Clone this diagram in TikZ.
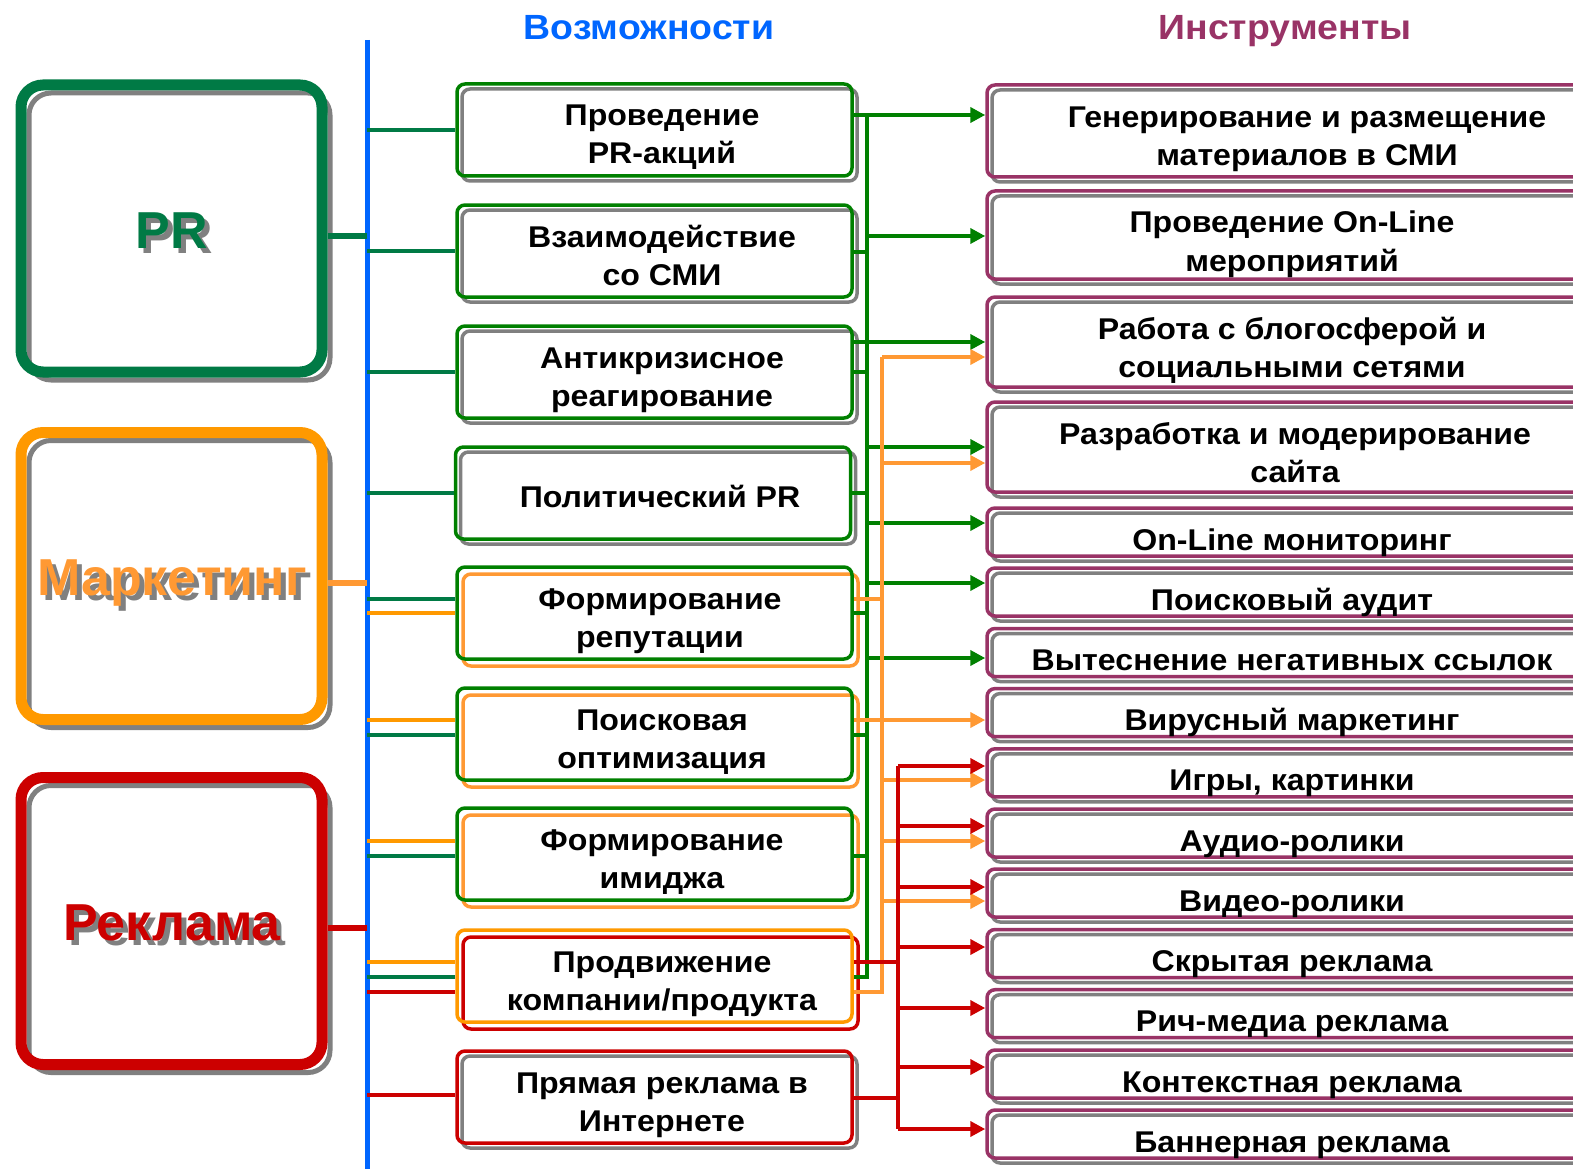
\documentclass[tikz,border=0pt]{standalone}
\usepackage{fontspec}
\setmainfont{Liberation Sans}
\newfontfamily\wfont{Liberation Sans}[FakeStretch=1.07]
\usetikzlibrary{arrows.meta}
\definecolor{prgreen}{RGB}{0,122,69}
\definecolor{mgreen}{RGB}{0,128,0}
\definecolor{morange}{RGB}{255,153,0}
\definecolor{lorange}{RGB}{255,153,51}
\definecolor{mred}{RGB}{204,0,0}
\definecolor{plum}{RGB}{153,51,102}
\definecolor{hblue}{RGB}{0,102,255}
\definecolor{shgray}{RGB}{128,128,128}
\tikzset{
  shd/.style={preaction={draw=#1, line width=3.5pt, transform canvas={shift={(5pt,-5pt)}}}},
  shdo/.style={preaction={draw=#1, line width=3.5pt, transform canvas={shift={(6pt,-7pt)}}}},
  bigbox/.style={rectangle, rounded corners=22pt, line width=11pt, minimum width=301pt, minimum height=287pt, inner sep=0pt,
     preaction={draw=shgray, line width=5pt, transform canvas={shift={(8pt,-8pt)}}}},
  mbox/.style={rectangle, rounded corners=8pt, line width=3.5pt, minimum width=395pt, minimum height=92pt, inner sep=0pt},
  rbox/.style={rectangle, rounded corners=8pt, line width=3.5pt, draw=plum, minimum width=620pt, inner sep=0pt, shd=shgray},
  mtxt/.style={anchor=base, font=\wfont\fontsize{30}{36}\selectfont\bfseries, inner sep=0pt},
  bigtxt/.style={anchor=base, font=\fontsize{52}{60}\selectfont\bfseries, inner sep=0pt},
  htxt/.style={anchor=base, font=\wfont\fontsize{35}{40}\selectfont\bfseries, inner sep=0pt},
  cline/.style={line width=4pt},
  bline/.style={line width=5.5pt},
  tip/.style={-{Triangle[length=15pt,width=15pt]}},
}
\begin{document}
\begin{tikzpicture}[x=1pt,y=-1pt]
\useasboundingbox (0,0) rectangle (1573,1169);
\fill[white] (0,0) rectangle (1573,1169);
\clip (0,0) rectangle (1573,1169);

% headers
\node[htxt, text=hblue] (h1) at (649,40) {Возможности};
\node[htxt, text=plum] (h2) at (1285,40) {Инструменты};

% big boxes
\node[bigbox, draw=prgreen] (pr) at (171.5,228.5) {};
\node[bigbox, draw=morange] (mk) at (171.5,576) {};
\node[bigbox, draw=mred] (rk) at (171.5,921) {};
\node[bigtxt, text=shgray] (prs) at (177,253) {PR};
\node[bigtxt, text=prgreen] (prt) at (172,248) {PR};
\node[bigtxt, text=shgray] (mks) at (177,600) {Маркетинг};
\node[bigtxt, text=lorange] (mkt) at (172,595) {Маркетинг};
\node[bigtxt, text=shgray] (rks) at (177,945) {Реклама};
\node[bigtxt, text=mred] (rkt) at (172,940) {Реклама};

% blue bus
\coordinate (bt) at (367,40);
\coordinate (bb) at (367,1169);
\draw[hblue, line width=5pt] (bt) -- (bb);

\draw[bline, prgreen] (pr.east |- 0,236) -- (bt |- 0,236);
\draw[bline, lorange] (mk.east |- 0,583) -- (bt |- 0,583);
\draw[bline, mred] (rk.east |- 0,928) -- (bt |- 0,928);

% middle boxes
\node[mbox, draw=mgreen, shd=shgray] (m1) at (654.5,130) {};
\node[mbox, draw=mgreen, shd=shgray] (m2) at (654.5,251) {};
\node[mbox, draw=mgreen, shd=shgray] (m3) at (654.5,372) {};
\node[mbox, draw=mgreen, shd=shgray] (m4) at (653,493) {};
\node[mbox, draw=mgreen, shdo=lorange] (m5) at (654.5,613) {};
\node[mbox, draw=mgreen, shdo=lorange] (m6) at (654.5,734) {};
\node[mbox, draw=mgreen, shdo=lorange] (m7) at (654.5,854) {};
\node[mbox, draw=morange, shdo=mred] (m8) at (654.5,976) {};
\node[mbox, draw=mred, shd=shgray] (m9) at (654.5,1097) {};

\node[mtxt] (t1a) at (662,126) {Проведение};
\node[mtxt] (t1b) at (662,164) {PR-акций};
\node[mtxt] (t2a) at (662,247) {Взаимодействие};
\node[mtxt] (t2b) at (662,285) {со СМИ};
\node[mtxt] (t3a) at (662,368) {Антикризисное};
\node[mtxt] (t3b) at (662,406) {реагирование};
\node[mtxt] (t4a) at (660,507) {Политический PR};
\node[mtxt] (t5a) at (660,609) {Формирование};
\node[mtxt] (t5b) at (660,647) {репутации};
\node[mtxt] (t6a) at (662,730) {Поисковая};
\node[mtxt] (t6b) at (662,768) {оптимизация};
\node[mtxt] (t7a) at (662,850) {Формирование};
\node[mtxt] (t7b) at (662,888) {имиджа};
\node[mtxt] (t8a) at (662,972) {Продвижение};
\node[mtxt] (t8b) at (662,1010) {компании/продукта};
\node[mtxt] (t9a) at (662,1093) {Прямая реклама в};
\node[mtxt] (t9b) at (662,1131) {Интернете};

% left connectors
\draw[cline, prgreen] (bt |- 0,130) -- (m1.west |- 0,130);
\draw[cline, prgreen] (bt |- 0,251) -- (m2.west |- 0,251);
\draw[cline, prgreen] (bt |- 0,372) -- (m3.west |- 0,372);
\draw[cline, prgreen] (bt |- 0,493) -- (m4.west |- 0,493);
\draw[cline, prgreen] (bt |- 0,599) -- (m5.west |- 0,599);
\draw[cline, morange] (bt |- 0,613) -- (m5.west |- 0,613);
\draw[cline, morange] (bt |- 0,720) -- (m6.west |- 0,720);
\draw[cline, prgreen] (bt |- 0,735) -- (m6.west |- 0,735);
\draw[cline, morange] (bt |- 0,841) -- (m7.west |- 0,841);
\draw[cline, prgreen] (bt |- 0,856) -- (m7.west |- 0,856);
\draw[cline, morange] (bt |- 0,962) -- (m8.west |- 0,962);
\draw[cline, prgreen] (bt |- 0,977) -- (m8.west |- 0,977);
\draw[cline, mred] (bt |- 0,992) -- (m8.west |- 0,992);
\draw[cline, mred] (bt |- 0,1095) -- (m9.west |- 0,1095);

% right boxes
\node[rbox, minimum height=92pt] (r1) at (1297,131) {};
\node[rbox, minimum height=88pt] (r2) at (1297,235) {};
\node[rbox, minimum height=90pt] (r3) at (1297,342) {};
\node[rbox, minimum height=90pt] (r4) at (1297,447) {};
\node[rbox, minimum height=48pt] (r5) at (1297,532) {};
\node[rbox, minimum height=48pt] (r6) at (1297,592) {};
\node[rbox, minimum height=48pt] (r7) at (1297,652.5) {};
\node[rbox, minimum height=48pt] (r8) at (1297,712.6) {};
\node[rbox, minimum height=48pt] (r9) at (1297,772.8) {};
\node[rbox, minimum height=48pt] (r10) at (1297,833) {};
\node[rbox, minimum height=48pt] (r11) at (1297,893) {};
\node[rbox, minimum height=48pt] (r12) at (1297,953.5) {};
\node[rbox, minimum height=48pt] (r13) at (1297,1013.7) {};
\node[rbox, minimum height=48pt] (r14) at (1297,1074) {};
\node[rbox, minimum height=48pt] (r15) at (1297,1134) {};

\node[mtxt] (u1a) at (1307,128) {Генерирование и размещение};
\node[mtxt] (u1b) at (1307,166) {материалов в СМИ};
\node[mtxt] (u2a) at (1292,233) {Проведение On-Line};
\node[mtxt] (u2b) at (1292,271) {мероприятий};
\node[mtxt] (u3a) at (1292,339) {Работа с блогосферой и};
\node[mtxt] (u3b) at (1292,377) {социальными сетями};
\node[mtxt] (u4a) at (1295,444) {Разработка и модерирование};
\node[mtxt] (u4b) at (1295,482) {сайта};
\node[mtxt] (u5) at (1292,550) {On-Line мониторинг};
\node[mtxt] (u6) at (1292,610) {Поисковый аудит};
\node[mtxt] (u7) at (1292,670.5) {Вытеснение негативных ссылок};
\node[mtxt] (u8) at (1292,730.6) {Вирусный маркетинг};
\node[mtxt] (u9) at (1292,790.8) {Игры, картинки};
\node[mtxt] (u10) at (1292,851) {Аудио-ролики};
\node[mtxt] (u11) at (1292,911) {Видео-ролики};
\node[mtxt] (u12) at (1292,971.5) {Скрытая реклама};
\node[mtxt] (u13) at (1292,1031.7) {Рич-медиа реклама};
\node[mtxt] (u14) at (1292,1092) {Контекстная реклама};
\node[mtxt] (u15) at (1292,1152) {Баннерная реклама};

% green trunk
\coordinate (gt) at (867,115);
\coordinate (gb) at (867,977);
\draw[cline, mgreen] (m8.east |- gb) -- (gb) -- (gt);
\draw[cline, mgreen, tip] (m1.east |- gt) -- (r1.west |- gt);
\draw[cline, mgreen, tip] (gt |- 0,236) -- (r2.west |- 0,236);
\draw[cline, mgreen, tip] (m3.east |- 0,342) -- (r3.west |- 0,342);
\draw[cline, mgreen, tip] (gt |- 0,447) -- (r4.west |- 0,447);
\draw[cline, mgreen, tip] (gt |- 0,523) -- (r5.west |- 0,523);
\draw[cline, mgreen, tip] (gt |- 0,583) -- (r6.west |- 0,583);
\draw[cline, mgreen, tip] (gt |- 0,658) -- (r7.west |- 0,658);
\draw[cline, mgreen] (m2.east |- 0,252) -- (gt |- 0,252);
\draw[cline, mgreen] (m3.east |- 0,372) -- (gt |- 0,372);
\draw[cline, mgreen] (m4.east |- 0,493) -- (gt |- 0,493);
\draw[cline, mgreen] (m5.east |- 0,613) -- (gt |- 0,613);
\draw[cline, mgreen] (m6.east |- 0,735) -- (gt |- 0,735);
\draw[cline, mgreen] (m7.east |- 0,856) -- (gt |- 0,856);

% orange trunk
\coordinate (ot) at (882,357);
\coordinate (ob) at (882,992);
\draw[cline, lorange] (m8.east |- ob) -- (ob) -- (ot);
\draw[cline, lorange, tip] (ot) -- (r3.west |- ot);
\draw[cline, lorange, tip] (ot |- 0,463) -- (r4.west |- 0,463);
\draw[cline, lorange, tip] (m6.east |- 0,720) -- (r8.west |- 0,720);
\draw[cline, lorange, tip] (ot |- 0,780) -- (r9.west |- 0,780);
\draw[cline, lorange, tip] (ot |- 0,841) -- (r10.west |- 0,841);
\draw[cline, lorange, tip] (ot |- 0,901) -- (r11.west |- 0,901);
\draw[cline, lorange] (m5.east |- 0,599) -- (ot |- 0,599);

% red trunk
\coordinate (rt) at (898,766);
\coordinate (rb) at (898,1129);
\draw[cline, mred] (rt) -- (rb);
\draw[cline, mred, tip] (rt) -- (r9.west |- rt);
\draw[cline, mred, tip] (rt |- 0,826) -- (r10.west |- 0,826);
\draw[cline, mred, tip] (rt |- 0,887) -- (r11.west |- 0,887);
\draw[cline, mred, tip] (rt |- 0,947) -- (r12.west |- 0,947);
\draw[cline, mred, tip] (rt |- 0,1008) -- (r13.west |- 0,1008);
\draw[cline, mred, tip] (rt |- 0,1067) -- (r14.west |- 0,1067);
\draw[cline, mred, tip] (rb) -- (r15.west |- rb);
\draw[cline, mred] (m8.east |- 0,962) -- (rt |- 0,962);
\draw[cline, mred] (m9.east |- 0,1098) -- (rt |- 0,1098);
\end{tikzpicture}
\end{document}
